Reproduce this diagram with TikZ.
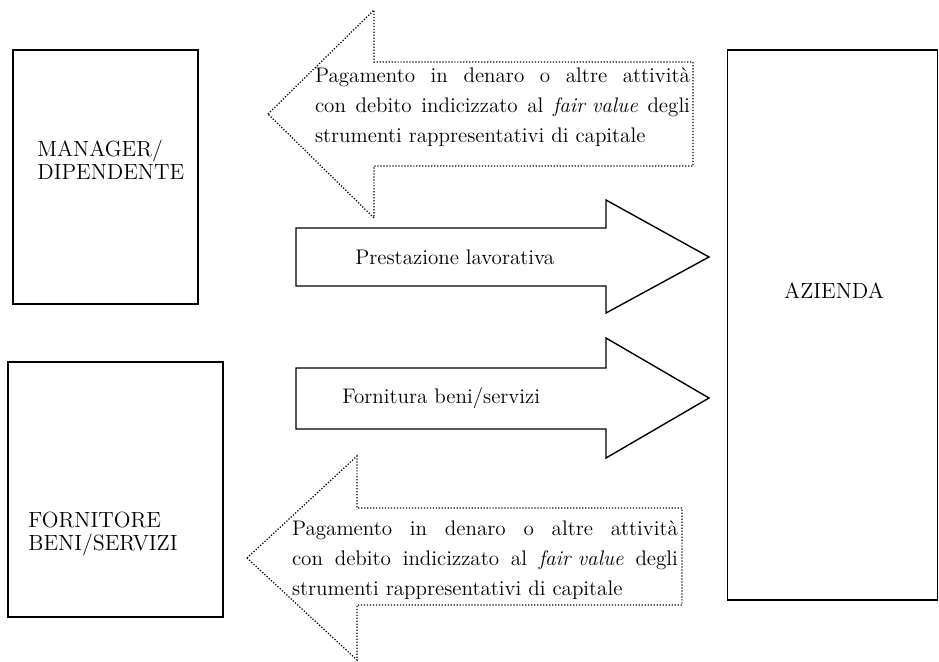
\documentclass[tikz,border=0pt]{standalone}
\usepackage{tikz}
\usetikzlibrary{positioning,calc}

\begin{document}
\begin{tikzpicture}[
    x=0.02cm, y=-0.02cm,
    party/.style={
        rectangle,
        draw=black,
        line width=1pt,
        inner sep=0pt
    },
    flow/.style={
        draw=black,
        line width=0.8pt,
        line join=miter
    },
    payment/.style={
        draw=black,
        densely dotted,
        line width=0.7pt
    },
    boxtext/.style={
        align=left,
        inner sep=0pt,
        font=\fontsize{12.5}{13}\selectfont
    },
    flowtext/.style={
        inner sep=0pt,
        font=\fontsize{12}{14}\selectfont
    },
    paytext/.style={
        align=left,
        inner sep=0pt,
        font=\fontsize{12}{17}\selectfont
    }
]
    \useasboundingbox (0,0) rectangle (939,662);

    % Parties
    \node[party, minimum width=3.7cm, minimum height=5.08cm] (manager) at (105.5,177) {};
    \node[party, minimum width=4.3cm, minimum height=5.1cm] (fornitore) at (115.5,489.5) {};
    \node[party, minimum width=4.2cm, minimum height=11cm] (azienda) at (832.5,325) {};

    \node[boxtext, anchor=west] (managertxt) at (37,160) {MANAGER/\\DIPENDENTE};
    \node[boxtext, anchor=west] (fornitoretxt) at (28,534) {FORNITORE\\BENI/SERVIZI};
    \node[boxtext] (aziendatxt) at (834,291) {AZIENDA};

    % Payment arrows (dotted)
    \draw[payment] (268,114) -- (374,10) -- (374,62) -- (693,62) -- (693,166)
        -- (374,166) -- (374,218) -- cycle;
    \draw[payment] (247,558) -- (357,456) -- (357,508) -- (682,508) -- (682,605)
        -- (357,605) -- (357,660) -- cycle;

    % Flow arrows
    \draw[flow] (296,228) -- (606,228) -- (606,200) -- (709,257) -- (606,313)
        -- (606,286) -- (296,286) -- cycle;
    \draw[flow] (296,368) -- (606,368) -- (606,338) -- (709,398) -- (606,458)
        -- (606,429) -- (296,429) -- cycle;

    \node[flowtext, anchor=west] (worktxt) at (355,257) {Prestazione lavorativa};
    \node[flowtext, anchor=west] (goodstxt) at (342,398) {Fornitura beni/servizi};

    \node[paytext, text width=7.5cm] (paytoptxt) at (502.5,107)
        {\makebox[7.5cm]{Pagamento\hfill in\hfill denaro\hfill o\hfill altre\hfill attività}\\
         \makebox[7.5cm]{con\hfill debito\hfill indicizzato\hfill al\hfill \textit{fair value}\hfill degli}\\
         strumenti rappresentativi di capitale};
    \node[paytext, text width=7.72cm] (paybottxt) at (485,560)
        {\makebox[7.72cm]{Pagamento\hfill in\hfill denaro\hfill o\hfill altre\hfill attività}\\
         \makebox[7.72cm]{con\hfill debito\hfill indicizzato\hfill al\hfill \textit{fair value}\hfill degli}\\
         strumenti rappresentativi di capitale};
\end{tikzpicture}
\end{document}
